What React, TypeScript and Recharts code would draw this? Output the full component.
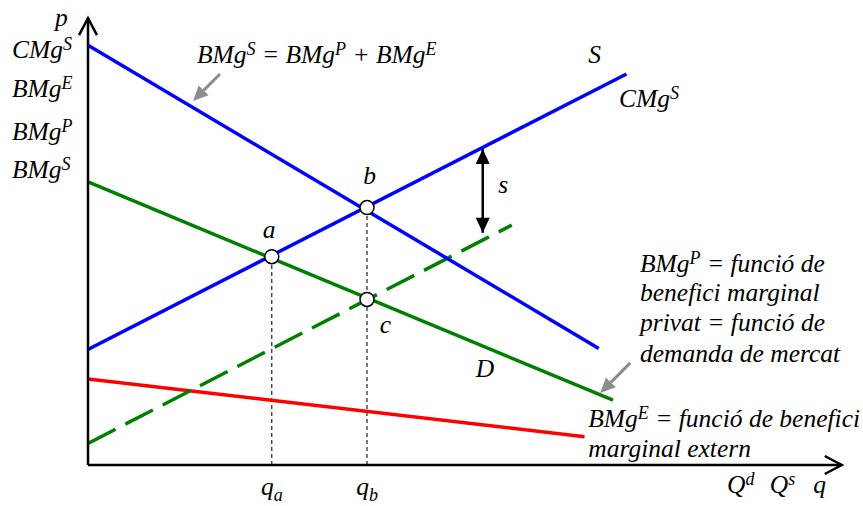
import React from "react";
import { ComposedChart, Line, XAxis, YAxis, ReferenceLine, ReferenceDot } from "recharts";

// corbes (q, p) llegides del gràfic
const socialBenefit = [{ q: 0, p: 9.33 }, { q: 6.81, p: 2.59 }];
const socialCost = [{ q: 0, p: 2.57 }, { q: 7.18, p: 8.69 }];
const privateBenefit = [{ q: 0, p: 6.29 }, { q: 7.0, p: 1.44 }];
const privateCost = [{ q: 0, p: 0.48 }, { q: 5.65, p: 5.33 }];
const externalBenefit = [{ q: 0, p: 1.91 }, { q: 6.62, p: 0.63 }];

const points = [
  { name: "a", q: 2.45, p: 4.63 },
  { name: "b", q: 3.72, p: 5.72 },
  { name: "c", q: 3.72, p: 3.68 },
];
const yLabels = ["CMg^S", "BMg^E", "BMg^P", "BMg^S"];
const xLabels = ["Q^d", "Q^s", "q"];
const privateNote = ["BMg^P = funció de", "benefici marginal", "privat = funció de", "demanda de mercat"];
const externalNote = ["BMg^E = funció de benefici", "marginal extern"];

const FONT = "Liberation Serif, Times New Roman, serif";
const SIZE = 25.5;

function rich(text: string) {
  const segs: { t: string; k: number }[] = [];
  const re = /([\^_])(\S)/g;
  let last = 0;
  let m: RegExpExecArray | null;
  while ((m = re.exec(text))) {
    if (m.index > last) segs.push({ t: text.slice(last, m.index), k: 0 });
    segs.push({ t: m[2], k: m[1] === "^" ? -8 : 6 });
    last = re.lastIndex;
  }
  if (last < text.length) segs.push({ t: text.slice(last), k: 0 });
  let prev = 0;
  return segs.map((s, i) => {
    const dy = s.k - prev;
    prev = s.k;
    return (
      <tspan key={i} dy={dy} fontSize={s.k ? 18 : SIZE}>
        {s.t}
      </tspan>
    );
  });
}

const label = (text: string, anchor = "start") => (props: any) => (
  <text
    x={props.cx}
    y={props.cy}
    textAnchor={anchor}
    fontSize={SIZE}
    fill="#000"
    style={{ whiteSpace: "pre", fontFamily: FONT, fontStyle: "italic" }}
  >
    {rich(text)}
  </text>
);

// fletxa dels eixos (oberta)
const axisArrow = (props: any) => {
  const { x1, y1, x2, y2 } = props;
  const a = Math.atan2(y2 - y1, x2 - x1);
  const L = 17, w = 9;
  const bx = x2 - L * Math.cos(a), by = y2 - L * Math.sin(a);
  const nx = -Math.sin(a) * w, ny = Math.cos(a) * w;
  return (
    <g stroke="#000" strokeWidth={2.5} fill="none">
      <line x1={x1} y1={y1} x2={x2} y2={y2} />
      <polyline points={`${bx + nx},${by + ny} ${x2},${y2} ${bx - nx},${by - ny}`} />
    </g>
  );
};

const head = (x: number, y: number, a: number, L: number, w: number) => {
  const bx = x - L * Math.cos(a), by = y - L * Math.sin(a);
  const nx = -Math.sin(a) * w, ny = Math.cos(a) * w;
  return `${bx + nx},${by + ny} ${x},${y} ${bx - nx},${by - ny}`;
};

const doubleArrow = (props: any) => {
  const { x1, y1, x2, y2 } = props;
  const a = Math.atan2(y2 - y1, x2 - x1);
  return (
    <g>
      <line x1={x1} y1={y1} x2={x2} y2={y2} stroke="#000" strokeWidth={2.5} />
      <polygon points={head(x2, y2, a, 15, 7)} fill="#000" />
      <polygon points={head(x1, y1, a + Math.PI, 15, 7)} fill="#000" />
    </g>
  );
};

const grayArrow = (props: any) => {
  const { x1, y1, x2, y2 } = props;
  const a = Math.atan2(y2 - y1, x2 - x1);
  const L = 15;
  return (
    <g>
      <line x1={x1} y1={y1} x2={x2 - L * Math.cos(a)} y2={y2 - L * Math.sin(a)} stroke="#8c8c8c" strokeWidth={3} />
      <polygon points={head(x2, y2, a, L, 7)} fill="#8c8c8c" />
    </g>
  );
};

export default function App() {
  const [a, b, c] = points;
  return (
    <div style={{ position: "absolute", left: 0, top: 0 }}>
      <ComposedChart width={863} height={506} margin={{ top: 15, right: 25, bottom: 41, left: 88 }}>
        <XAxis type="number" dataKey="q" domain={[0, 10]} allowDataOverflow hide />
        <YAxis type="number" dataKey="p" domain={[0, 10]} allowDataOverflow hide />

        <ReferenceLine segment={[{ x: a.q, y: 0 }, { x: a.q, y: a.p }]} stroke="#333" strokeWidth={1.3} strokeDasharray="4 3" ifOverflow="visible" />
        <ReferenceLine segment={[{ x: b.q, y: 0 }, { x: b.q, y: b.p }]} stroke="#333" strokeWidth={1.3} strokeDasharray="4 3" ifOverflow="visible" />

        <Line data={externalBenefit} dataKey="p" stroke="#ff0000" strokeWidth={3.5} dot={false} isAnimationActive={false} />
        <Line data={privateCost} dataKey="p" stroke="#008000" strokeWidth={3.5} strokeDasharray="31 11" dot={false} isAnimationActive={false} />
        <Line data={privateBenefit} dataKey="p" stroke="#008000" strokeWidth={3.5} dot={false} isAnimationActive={false} />
        <Line data={socialBenefit} dataKey="p" stroke="#0000ff" strokeWidth={3.5} dot={false} isAnimationActive={false} />
        <Line data={socialCost} dataKey="p" stroke="#0000ff" strokeWidth={3.5} dot={false} isAnimationActive={false} />

        {/* eixos */}
        <ReferenceLine segment={[{ x: 0, y: 0 }, { x: 0, y: 9.93 }]} shape={axisArrow} ifOverflow="visible" />
        <ReferenceLine segment={[{ x: 0, y: 0 }, { x: 10.05, y: 0 }]} shape={axisArrow} ifOverflow="visible" />

        {/* fletxes */}
        <ReferenceLine segment={[{ x: 5.263, y: 7.02 }, { x: 5.263, y: 5.16 }]} shape={doubleArrow} ifOverflow="visible" />
        <ReferenceLine segment={[{ x: 1.76, y: 8.69 }, { x: 1.4, y: 8.09 }]} shape={grayArrow} ifOverflow="visible" />
        <ReferenceLine segment={[{ x: 7.23, y: 2.27 }, { x: 6.83, y: 1.6 }]} shape={grayArrow} ifOverflow="visible" />

        {points.map((pt) => (
          <ReferenceDot key={pt.name} x={pt.q} y={pt.p} r={7} fill="#fff" stroke="#000" strokeWidth={1.5} ifOverflow="visible" />
        ))}

        {/* textos */}
        <ReferenceDot x={-0.44} y={9.76} shape={label("p")} ifOverflow="visible" />
        {yLabels.map((t, i) => (
          <ReferenceDot key={t + i} x={-1.013} y={[9.04, 8.18, 7.22, 6.38][i]} shape={label(t)} ifOverflow="visible" />
        ))}
        <ReferenceDot x={1.453} y={8.93} shape={label("BMg^S = BMg^P + BMg^E")} ifOverflow="visible" />
        <ReferenceDot x={6.67} y={8.93} shape={label("S")} ifOverflow="visible" />
        <ReferenceDot x={7.08} y={7.96} shape={label("CMg^S")} ifOverflow="visible" />
        <ReferenceDot x={5.47} y={6.04} shape={label("s")} ifOverflow="visible" />
        <ReferenceDot x={3.67} y={6.24} shape={label(b.name)} ifOverflow="visible" />
        <ReferenceDot x={2.33} y={5.04} shape={label(a.name)} ifOverflow="visible" />
        <ReferenceDot x={3.89} y={2.93} shape={label(c.name)} ifOverflow="visible" />
        <ReferenceDot x={5.17} y={1.96} shape={label("D")} ifOverflow="visible" />
        {privateNote.map((t, i) => (
          <ReferenceDot key={t} x={7.36} y={[4.29, 3.64, 2.98, 2.29][i]} shape={label(t)} ifOverflow="visible" />
        ))}
        {externalNote.map((t, i) => (
          <ReferenceDot key={t} x={6.67} y={[0.84, 0.18][i]} shape={label(t)} ifOverflow="visible" />
        ))}
        <ReferenceDot x={a.q} y={-0.67} shape={label("q_a", "middle")} ifOverflow="visible" />
        <ReferenceDot x={b.q} y={-0.67} shape={label("q_b", "middle")} ifOverflow="visible" />
        {xLabels.map((t, i) => (
          <ReferenceDot key={t} x={[8.52, 9.09, 9.67][i]} y={-0.62} shape={label(t)} ifOverflow="visible" />
        ))}
      </ComposedChart>
    </div>
  );
}
